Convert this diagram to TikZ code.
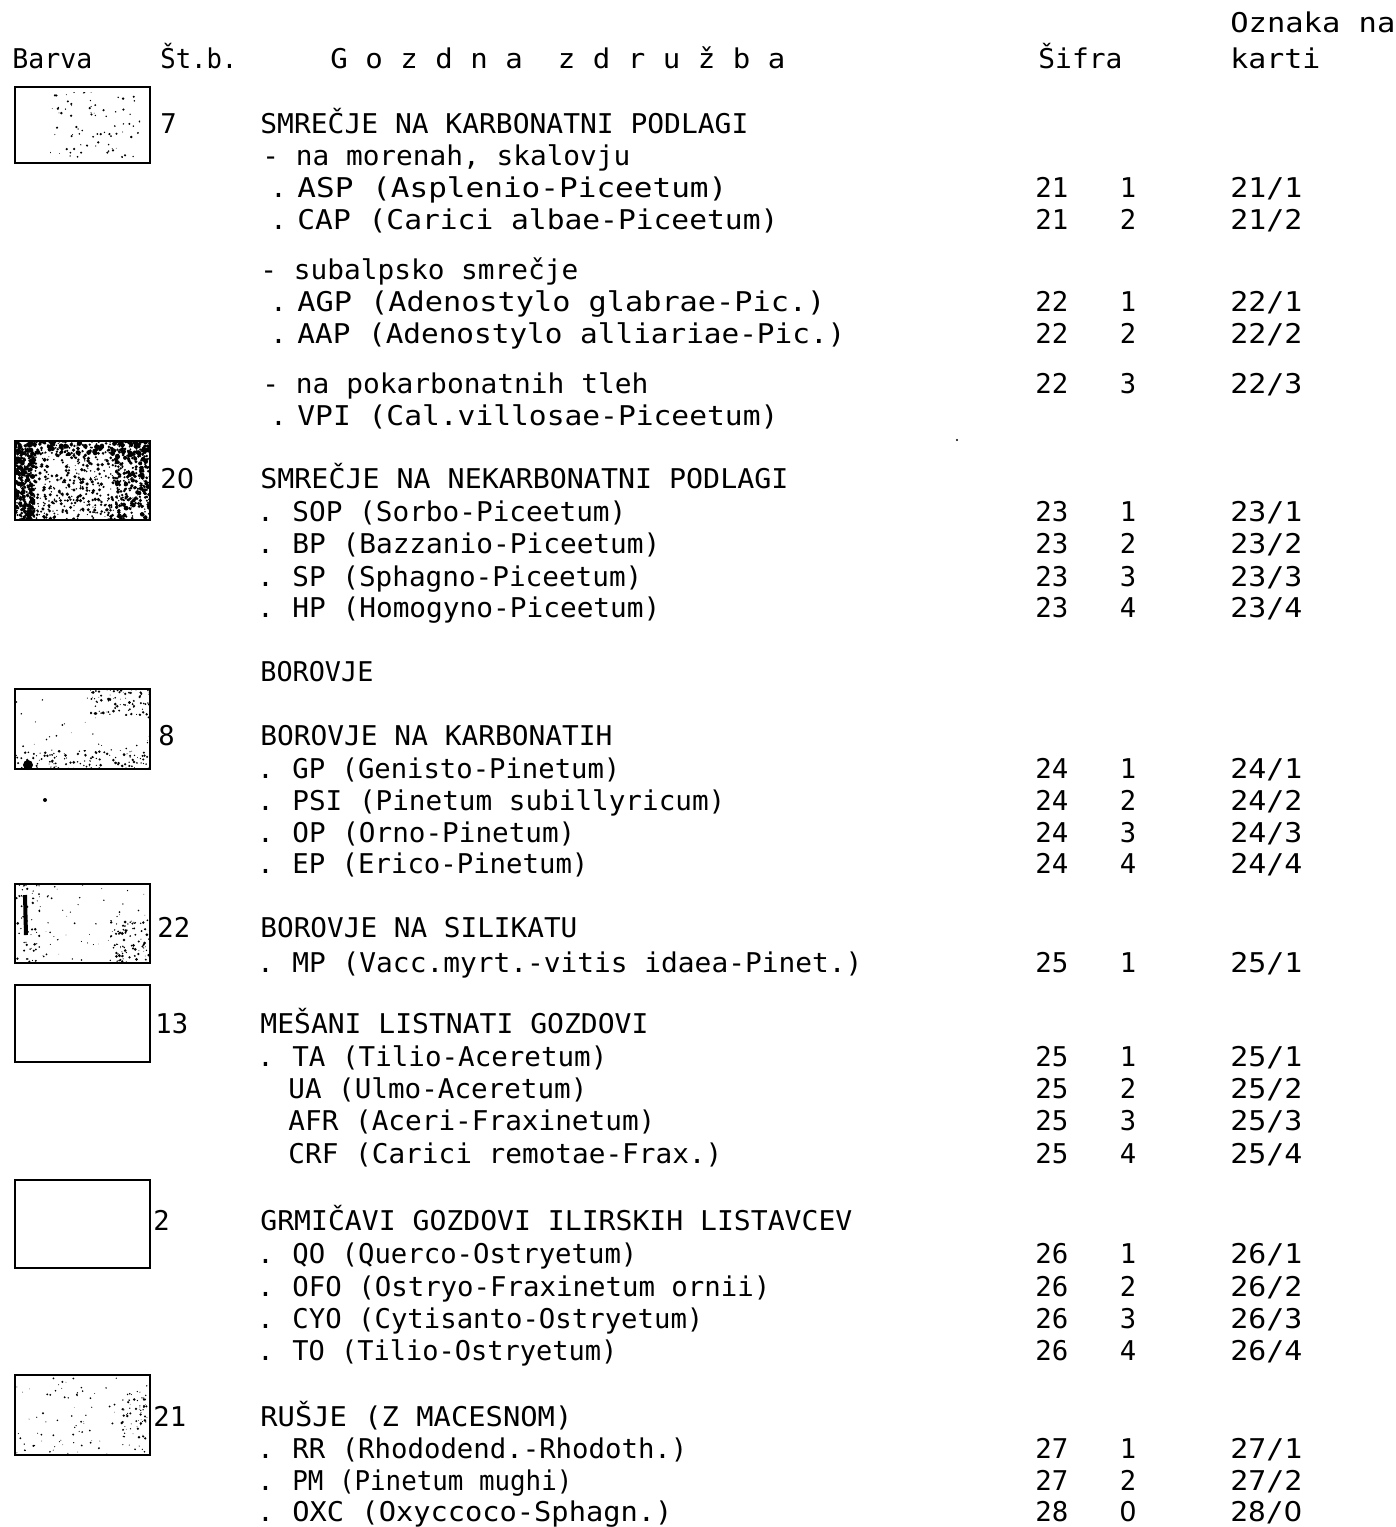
\documentclass[tikz,border=0pt]{standalone}
\usepackage{fontspec}
\setmainfont{DejaVu Sans Mono}
\newfontfamily\plainzero{DejaVu Sans}
\newcommand\zr{{\plainzero 0}}
\usepackage{graphicx}
\newdimen\upx \upx=0.5pt
\newcommand\fw[2]{\resizebox{#1\upx}{\height}{#2}}
\newcommand\ent[6]{%
  \node[txt] (#1d) at (#3,#2) {.};
  \node[txt] (#1) at (#4,#2) {\fw{#5}{#6}};}
\newcommand\nums[5]{%
  \node[txt] (#1a) at (1035,#2) {\fw{33}{#3}};
  \node[num] (#1b) at (1128,#2) {#4};
  \node[txt] (#1c) at (1230,#2) {\fw{72}{#5}};}
\newcommand\specks[7]{% x1 y1 x2 y2 n rmin rspread
  \begin{scope}
    \clip (#1,#2) rectangle (#3,#4);
    \foreach \k in {1,...,#5}{
      \pgfmathsetmacro\xx{#1+rnd*(#3-#1)}
      \pgfmathsetmacro\yy{#2+rnd*(#4-#2)}
      \pgfmathsetmacro\rr{#6+rnd*#7}
      \fill[black] (\xx,\yy) circle[radius=\rr];
    }
  \end{scope}}
\begin{document}
\begin{tikzpicture}[x=0.5pt,y=-0.5pt,
  txt/.style={anchor=base west,inner sep=0pt,font=\fontsize{13.6}{16}\selectfont},
  num/.style={anchor=base,inner sep=0pt,font=\fontsize{13.6}{16}\selectfont},
  colorbox/.style={draw=black,line width=1.1pt}]
\useasboundingbox (0,0) rectangle (1396,1527);
\pgfmathsetseed{4711}

% ---- header
\node[txt] (hOz) at (1230,32) {\fw{165}{Oznaka na}};
\node[txt] (hBa) at (12,68) {\fw{80}{Barva}};
\node[txt] (hSt) at (160,68) {\fw{77}{Št.b.}};
\node[txt] (hGo) at (330,68) {\fw{455}{G o z d n a \ z d r u ž b a}};
\node[txt] (hSi) at (1038,68) {\fw{84}{Šifra}};
\node[txt] (hKa) at (1230,68) {\fw{90}{karti}};

% ---- colour boxes with speckles
\specks{50}{92}{140}{158}{80}{0.4}{0.9}
\draw[colorbox] (15,87) rectangle (150,163);

\specks{15}{441}{150}{520}{650}{0.5}{1.4}
\specks{15}{441}{35}{520}{200}{0.8}{1.6}
\specks{15}{441}{150}{455}{150}{0.8}{1.6}
\specks{115}{441}{150}{520}{180}{0.8}{1.5}
\draw[colorbox] (15,441) rectangle (150,520);

\specks{15}{750}{150}{769}{100}{0.4}{1.1}
\specks{90}{689}{150}{715}{80}{0.4}{1.1}
\specks{15}{689}{150}{769}{50}{0.3}{0.7}
\fill (28,765) circle[radius=5];
\draw[colorbox] (15,689) rectangle (150,769);

\specks{15}{884}{40}{963}{50}{0.4}{1.1}
\specks{110}{920}{150}{963}{80}{0.4}{1.2}
\specks{15}{884}{150}{963}{70}{0.3}{0.7}
\draw[line width=2pt] (25,895) -- (26,935);
\draw[colorbox] (15,884) rectangle (150,963);

\draw[colorbox] (15,985) rectangle (150,1062);
\draw[colorbox] (15,1180) rectangle (150,1268);

\specks{15}{1375}{150}{1455}{100}{0.3}{0.8}
\specks{120}{1390}{150}{1440}{50}{0.4}{1.0}
\draw[colorbox] (15,1375) rectangle (150,1455);

% stray specks
\fill (45,800) circle[radius=2];
\fill (957,440) circle[radius=1.2];

% ---- Št.b. numbers
\node[txt] (n7)  at (160,133)  {7};
\node[txt] (n20) at (160,488)  {2\zr};
\node[txt] (n8)  at (158,745)  {8};
\node[txt] (n22) at (157,937)  {22};
\node[txt] (n13) at (155,1033) {13};
\node[txt] (n2)  at (153,1230) {2};
\node[txt] (n21) at (153,1426) {21};

% ---- block 1
\node[txt] (t1) at (260,133) {\fw{488}{SMREČJE NA KARBONATNI PODLAGI}};
\node[txt] (t2) at (262,165) {\fw{368}{- na morenah, skalovju}};
\ent{asp}{197}{270}{297}{430}{ASP (Asplenio-Piceetum)}
\nums{r1}{197}{21}{1}{21/1}
\ent{cap}{229}{270}{297}{481}{CAP (Carici albae-Piceetum)}
\nums{r2}{229}{21}{2}{21/2}
\node[txt] (t3) at (260,279) {\fw{318}{- subalpsko smrečje}};
\ent{agp}{311}{270}{297}{528}{AGP (Adenostylo glabrae-Pic.)}
\nums{r3}{311}{22}{1}{22/1}
\ent{aap}{343}{270}{297}{548}{AAP (Adenostylo alliariae-Pic.)}
\nums{r4}{343}{22}{2}{22/2}
\node[txt] (t4) at (262,393) {\fw{386}{- na pokarbonatnih tleh}};
\nums{r5}{393}{22}{3}{22/3}
\ent{vpi}{425}{270}{297}{481}{VPI (Cal.villosae-Piceetum)}

% ---- block 2
\node[txt] (t5) at (260,488) {\fw{528}{SMREČJE NA NEKARBONATNI PODLAGI}};
\ent{sop}{521}{257}{292}{334}{SOP (Sorbo-Piceetum)}
\nums{r6}{521}{23}{1}{23/1}
\ent{bp}{553}{257}{292}{368}{BP (Bazzanio-Piceetum)}
\nums{r7}{553}{23}{2}{23/2}
\ent{sp}{586}{257}{292}{350}{SP (Sphagno-Piceetum)}
\nums{r8}{586}{23}{3}{23/3}
\ent{hp}{617}{257}{292}{368}{HP (Homogyno-Piceetum)}
\nums{r9}{617}{23}{4}{23/4}

% ---- block 3
\node[txt] (t6) at (260,681) {\fw{113}{BOROVJE}};
\node[txt] (t7) at (260,745) {\fw{352}{BOROVJE NA KARBONATIH}};
\ent{gp}{778}{257}{292}{328}{GP (Genisto-Pinetum)}
\nums{r10}{778}{24}{1}{24/1}
\ent{psi}{810}{257}{292}{433}{PSI (Pinetum subillyricum)}
\nums{r11}{810}{24}{2}{24/2}
\ent{op}{842}{257}{292}{283}{OP (Orno-Pinetum)}
\nums{r12}{842}{24}{3}{24/3}
\ent{ep}{873}{257}{292}{296}{EP (Erico-Pinetum)}
\nums{r13}{873}{24}{4}{24/4}

% ---- block 4
\node[txt] (t8) at (260,937) {\fw{317}{BOROVJE NA SILIKATU}};
\ent{mp}{972}{257}{292}{570}{MP (Vacc.myrt.-vitis idaea-Pinet.)}
\nums{r14}{972}{25}{1}{25/1}

% ---- block 5
\node[txt] (t9) at (260,1033) {\fw{388}{MEŠANI LISTNATI GOZDOVI}};
\ent{ta}{1066}{257}{292}{315}{TA (Tilio-Aceretum)}
\nums{r15}{1066}{25}{1}{25/1}
\node[txt] (ua) at (288,1098) {\fw{299}{UA (Ulmo-Aceretum)}};
\nums{r16}{1098}{25}{2}{25/2}
\node[txt] (afr) at (288,1130) {\fw{367}{AFR (Aceri-Fraxinetum)}};
\nums{r17}{1130}{25}{3}{25/3}
\node[txt] (crf) at (288,1163) {\fw{434}{CRF (Carici remotae-Frax.)}};
\nums{r18}{1163}{25}{4}{25/4}

% ---- block 6
\node[txt] (t10) at (260,1230) {\fw{592}{GRMIČAVI GOZDOVI ILIRSKIH LISTAVCEV}};
\ent{qo}{1263}{257}{292}{345}{QO (Querco-Ostryetum)}
\nums{r19}{1263}{26}{1}{26/1}
\ent{ofo}{1296}{257}{292}{478}{OFO (Ostryo-Fraxinetum ornii)}
\nums{r20}{1296}{26}{2}{26/2}
\ent{cyo}{1328}{257}{292}{411}{CYO (Cytisanto-Ostryetum)}
\nums{r21}{1328}{26}{3}{26/3}
\ent{to}{1360}{257}{292}{325}{TO (Tilio-Ostryetum)}
\nums{r22}{1360}{26}{4}{26/4}

% ---- block 7
\node[txt] (t11) at (260,1426) {\fw{312}{RUŠJE (Z MACESNOM)}};
\ent{rr}{1458}{257}{292}{395}{RR (Rhododend.-Rhodoth.)}
\nums{r23}{1458}{27}{1}{27/1}
\ent{pm}{1490}{257}{292}{280}{PM (Pinetum mughi)}
\nums{r24}{1490}{27}{2}{27/2}
\ent{oxc}{1521}{257}{292}{380}{OXC (Oxyccoco-Sphagn.)}
\nums{r25}{1521}{28}{\zr}{28/\zr}
\end{tikzpicture}
\end{document}
